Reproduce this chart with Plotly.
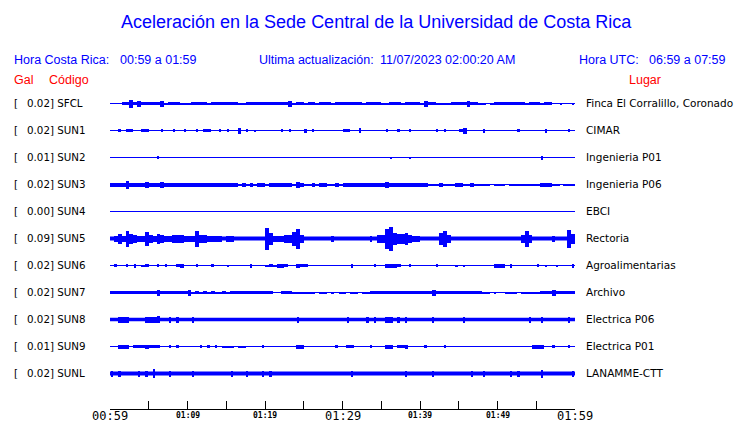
import plotly.graph_objects as go

# ---------------- data ----------------
TITLE = "Aceleración en la Sede Central de la Universidad de Costa Rica"
CODES = ["SFCL", "SUN1", "SUN2", "SUN3", "SUN4", "SUN5", "SUN6", "SUN7", "SUN8", "SUN9", "SUNL"]
GAL = [0.02, 0.02, 0.01, 0.02, 0.00, 0.09, 0.02, 0.02, 0.02, 0.01, 0.02]
PLACES = ["Finca El Corralillo, Coronado", "CIMAR", "Ingenieria P01", "Ingenieria P06", "EBCI",
          "Rectoria", "Agroalimentarias", "Archivo", "Electrica P06", "Electrica P01", "LANAMME-CTT"]

TICK_MINUTES = [0, 10, 20, 30, 40, 50, 60]
TICK_LABELS = ["00:59", "01:09", "01:19", "01:29", "01:39", "01:49", "01:59"]
MAJOR_TICKS = ["00:59", "01:29", "01:59"]
MINOR_TICK_STEP = 5  # minutes between tick marks
BIN_MINUTES = 0.5    # envelope resolution (half-minute bins)

# continuous noise band half-amplitude (relative units)
BASE = [0, 0, 0, 0, 0, 2, 0, 0, 1.7, 0, 1.9]

# peak envelope per half-minute bin (relative units), 120 bins per station
SFCL = [0,0,0,1.5,1.5,4,1.5,3,1.5,1.5,1.5,1.5,1.5,3,1,1.5,1.5,1.5,1,1,
        1,1.5,1.5,1.5,1.5,1,1.5,1.5,1.5,1.5,1.5,1.5,1.5,1,1,1.5,1.5,1.5,1.5,1.5,
        1.5,1.5,1.5,1.5,1.5,1.5,3,1,1.5,1.5,1,1.5,1.5,1,1.5,1.5,1.5,1,1.5,1.5,
        1.5,1.5,1.5,1.5,1.5,1,1.5,1.5,1.5,1.5,1,1,1.5,1.5,1.5,1,1.5,1.5,1.5,1.5,
        1,3,1.5,1.5,1,1,1,1,1.5,1.5,1.5,1.5,3,1.5,1.5,1,1,0,1,1.5,
        1.5,1.5,1.5,1.5,1.5,1.5,1.5,1,1.5,1.5,1.5,1,1.5,1.5,0,0,1,0,0,1]
SUN1 = [0,0,1.5,0,1.5,1.5,0,0,1.5,1.5,0,0,0,1.5,0,0,1.5,0,0,1.5,
        0,0,1.5,0,1.5,1.5,0,0,1.5,0,1.5,0,0,3,0,1.5,0,1,0,0,
        0,0,0,0,1.5,0,1.5,0,0,0,2,0,1.5,0,0,0,0,0,0,0,
        1.5,1.5,0,0,2.5,0,0,0,0,0,0,1.5,0,0,1.5,0,0,1.5,0,0,
        0,0,0,0,1.5,0,1.5,0,0,0,1.5,3,0,0,0,0,2,0,0,0,
        0,0,0,0,0,1.5,0,0,0,0,0,0,2,0,0,0,0,0,1.5,0]
SUN2 = [0,0,0,0,0,0,0,0,0,0,0,0,1.5,0,0,0,0,0,0,0,
        0,0,0,0,0,0,0,0,0,0,0,0,0,0,0,0,0,0,0,0,
        0,0,0,0,0,0,0,0,0,0,0,0,0,0,0,0,0,0,0,0,
        0,0,0,0,0,0,0,0,0,0,0,0,1,0,0,0,0,1,0,0,
        0,0,0,0,0,0,0,0,0,0,0,0,0,0,0,0,0,0,0,0,
        0,0,0,0,0,0,0,0,0,0,0,2,0,0,0,0,0,0,0,0]
SUN3 = [2,2,2,2,4,2,2,2,2,3,2,2,2,3,2,2,2,2,2,2,
        2,2,2,2,2,2,2,2,2,2,2,2,2,1,2,1,2,1,2,2,
        1,2,2,2,2,2,2,1,3,2,1,1,2,1,2,2,1,1,2,1,
        2,2,2,2,2,2,2,2,2,2,2,3,2,2,2,2,2,2,2,2,
        2,2,1,1,1,2,1,1,1,2,2,1,1,2,1,1,1,1,0,1,
        1,1,0,1,1,1,1,1,1,1,1,2,2,2,1,1,0,1,1,1]
SUN4 = [0] * 120
SUN5 = [2,3,5,3,8,5,4,3,3,7,4,3,5,4,3,3,4,4,4,3,
        3,3,8,4,4,3,3,3,3,0,3,3,0,0,0,0,0,0,0,0,
        11,6,3,3,3,4,4,7,10,4,0,0,0,0,0,0,0,3,0,0,
        0,0,0,0,0,0,0,3,0,4,4,10,12,6,5,5,6,4,3,3,
        0,0,0,0,0,6,8,4,0,0,0,0,0,0,0,0,0,0,0,0,
        0,0,0,0,0,0,4,8,4,0,0,0,0,0,3,0,0,0,9,5]
SUN6 = [0,1.5,0,0,1.5,0,2,0,1,1.5,0,0,1.5,0,1.5,0,0,1.5,2,0,
        0,0,1.5,0,0,0,1.5,0,0,0,1,0,0,0,0,0,2,0,0,0,
        1,1.5,1,2,2,1.5,0,0,2,1.5,1.5,0,0,0,0,0,0,0,0,0,
        0,0,2,0,0,0,0,0,1.5,0,0,2,2,2,1.5,0,0,1.5,0,0,
        0,0,0,0,1.5,0,0,0,0,1,0,1,0,0,0,0,0,0,0,2,
        2,2,0,2,0,0,0,0,0,0,1.5,0,1,0,0,1,0,0,0,2]
SUN7 = [1.5,1.5,1.5,1.5,1.5,1.5,1.5,1.5,1.5,1.5,1.5,1.5,3,1.5,1.5,1.5,1.5,1.5,1.5,1.5,
        3,1,1.5,1,1.5,1,1.5,1,1,1.5,1,1.5,1.5,1.5,1.5,1.5,1.5,1.5,1.5,1.5,
        1.5,1.5,0,0,1.5,1.5,1.5,1,1,1,1,1,1,0,1,1,0,1,0,1,
        1,0,1,1,0,1,1,1.5,1.5,1.5,1.5,1.5,1.5,1.5,1.5,1.5,1.5,1.5,1.5,1.5,
        1.5,1.5,1.5,3,1.5,1.5,1.5,1.5,1.5,1.5,1.5,1.5,1.5,1.5,1.5,1.5,1,1,0,1,
        0,0,1,1,1,0,1,1,1,1,1,1.5,1.5,1.5,3,1.5,1.5,1.5,1.5,1.5]
SUN8 = [0,0,3,3,3,0,0,0,0,3,3,3,3.5,0,0,3,0,3,0,0,
        0,3,0,0,0,0,0,0,0,0,0,0,0,0,0,0,0,0,0,0,
        0,0,0,0,0,0,0,0,3,0,0,0,0,0,0,0,0,0,0,0,
        0,3,0,0,0,0,3,0,3,0,0,3,3,0,3,0,3,0,0,0,
        0,0,0,3,0,0,0,0,0,0,0,3,0,0,0,0,0,0,0,0,
        0,0,0,0,0,0,0,0,3,0,0,3,0,0,0,0,0,0,3,0]
SUN9 = [0,0,2,2,2,0,1.5,1.5,1.5,2,1.5,1.5,1.5,0,0,1.5,0,1.5,0,0,
        0,0,0,1.5,0,1.5,0,1.5,0,1,1,1,0,1,1,0,0,0,0,1.5,
        0,0,0,0,0,0,0,0,2,2,0,0,0,0,0,0,0,0,1.5,0,
        0,1.5,1.5,0,0,0,0,1.5,0,0,0,2,2,0,1.5,1.5,2,0,0,0,
        0,1.5,0,0,0,0,1.5,0,0,0,0,0,0,0,0,0,0,0,0,0,
        0,0,0,0,0,0,0,0,0,2,2,2,0,0,1.5,0,0,0,1.5,0]
SUNL = [3,0,3,0,0,0,0,3,0,3,0,4.5,0,0,0,3,0,0,0,0,
        0,3,0,0,0,0,0,0,0,0,0,3,0,0,0,3,0,0,0,3,
        0,3,0,0,0,0,0,0,0,0,0,0,0,0,0,0,0,0,0,0,
        0,0,3,0,0,0,0,0,0,0,0,0,0,0,0,0,3,0,0,0,
        0,0,0,3,0,0,0,0,0,0,0,0,0,3,0,0,3,0,0,0,
        0,0,0,3,0,3,0,0,0,0,0,4,0,0,0,0,0,0,0,3]
ENVELOPES = [SFCL, SUN1, SUN2, SUN3, SUN4, SUN5, SUN6, SUN7, SUN8, SUN9, SUNL]

# ---------------- styling / layout ----------------
W, H = 740, 423
L, R, T, B = 110, 165, 90, 14
BLUE = "#0000FF"
RED = "#FF0000"
AMP_PER_ROW = 27.0  # relative amplitude units per row spacing
N = len(CODES)
Y_LOW, Y_HIGH = (373.5 - 409) / 27.0, (373.5 - 90) / 27.0


def pxx(x):
    return (x - L) / (W - L - R)


def pxy(y):
    return (H - B - y) / (H - T - B)


fig = go.Figure()
total_min = TICK_MINUTES[-1]

for i, (code, env, base) in enumerate(zip(CODES, ENVELOPES, BASE)):
    off = (N - 1) - i
    fig.add_trace(go.Scatter(x=[0, total_min], y=[off, off], mode="lines",
                             line=dict(color=BLUE, width=1), hoverinfo="skip"))
    if base > 0:
        b = base / AMP_PER_ROW
        fig.add_trace(go.Scatter(x=[0, total_min, total_min, 0, 0],
                                 y=[off - b, off - b, off + b, off + b, off - b],
                                 mode="lines", fill="toself", fillcolor=BLUE,
                                 line=dict(width=0, color=BLUE), hoverinfo="skip"))
    active = [(a > base and a > 0) for a in env]
    xs, ys, bs, ws = [], [], [], []
    for k, a in enumerate(env):
        if active[k]:
            h = a / AMP_PER_ROW
            xs.append((k + 0.5) * BIN_MINUTES)
            ys.append(2 * h)
            bs.append(off - h)
            joined = (k > 0 and active[k - 1]) or (k < len(env) - 1 and active[k + 1])
            ws.append(BIN_MINUTES if joined else BIN_MINUTES * 0.45)
    if xs:
        fig.add_trace(go.Bar(x=xs, y=ys, base=bs, width=ws,
                             marker=dict(color=BLUE, line=dict(width=0)),
                             hoverinfo="skip"))

ann = []


def text(x, y, s, size, color="black", family="DejaVu Sans", anchor="left"):
    ann.append(dict(x=pxx(x), y=pxy(y), xref="paper", yref="paper", text=s,
                    showarrow=False, xanchor=anchor, yanchor="middle",
                    borderpad=0, borderwidth=0,
                    font=dict(size=size, color=color, family=family)))


text(376, 22, TITLE, 18, BLUE, "Liberation Sans", "center")
text(14, 60, "Hora Costa Rica:", 12.5, BLUE, "Liberation Sans")
text(120, 60, "00:59 a 01:59", 12.5, BLUE, "Liberation Sans")
text(259, 60, "Ultima actualización:", 12.5, BLUE, "Liberation Sans")
text(380, 60, "11/07/2023 02:00:20 AM", 12.5, BLUE, "Liberation Sans")
text(579, 60, "Hora UTC:", 12.5, BLUE, "Liberation Sans")
text(649, 60, "06:59 a 07:59", 12.5, BLUE, "Liberation Sans")
text(14, 80, "Gal", 12.5, RED, "Liberation Sans")
text(49, 80, "Código", 12.5, RED, "Liberation Sans")
text(629, 80, "Lugar", 12.5, RED, "Liberation Sans")

for i, (code, g, place) in enumerate(zip(CODES, GAL, PLACES)):
    yy = 103 + 27 * i
    text(14, yy, "[", 10.3)
    text(27, yy, f"{g:.2f}] {code}", 10.3)
    text(586, yy, place, 10.5)

for m, lab in zip(TICK_MINUTES, TICK_LABELS):
    if lab in MAJOR_TICKS:
        ann.append(dict(x=m, y=pxy(416), xref="x", yref="paper", text=lab, showarrow=False,
                        xanchor="center", yanchor="middle", borderpad=0,
                        font=dict(size=12, color="black", family="DejaVu Sans Mono")))
    else:
        ann.append(dict(x=m, y=pxy(415), xref="x", yref="paper", text="<b>" + lab + "</b>",
                        showarrow=False, xanchor="center", yanchor="middle", borderpad=0,
                        font=dict(size=8, color="black", family="DejaVu Sans Mono")))

fig.update_layout(
    width=W, height=H, margin=dict(l=L, r=R, t=T, b=B),
    paper_bgcolor="white", plot_bgcolor="white", showlegend=False,
    barmode="overlay", bargap=0, annotations=ann,
    xaxis=dict(range=[0, total_min], showgrid=False, zeroline=False,
               showline=True, linecolor="black", linewidth=1,
               tickmode="array", tickvals=list(range(0, total_min + 1, MINOR_TICK_STEP)),
               ticks="inside", ticklen=8, tickcolor="black", tickwidth=1,
               showticklabels=False, fixedrange=True),
    yaxis=dict(range=[Y_LOW, Y_HIGH], visible=False, fixedrange=True),
)

fig.write_html("out.html", config={"displayModeBar": False},
               post_script="document.body.style.margin='0';document.body.style.overflow='hidden';")
